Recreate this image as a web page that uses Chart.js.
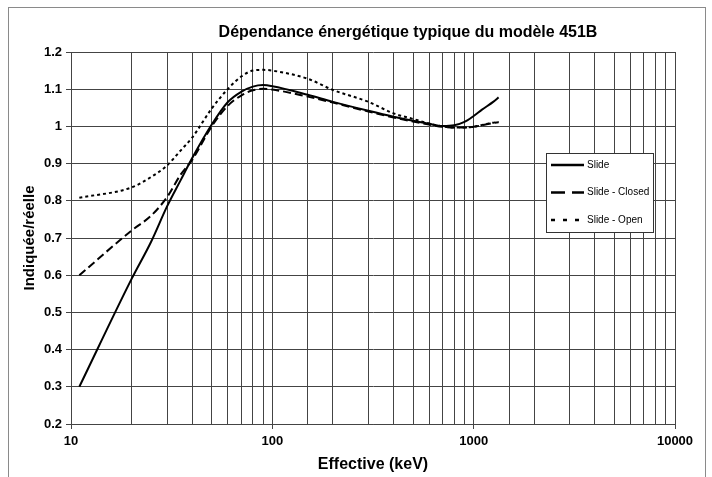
<!DOCTYPE html>
<html><head><meta charset="utf-8">
<script src="https://cdn.jsdelivr.net/npm/chart.js@4/dist/chart.umd.min.js"></script>
<style>html,body{margin:0;padding:0;background:#fff}canvas{display:block}</style>
</head><body>
<canvas id="c" width="712" height="477"></canvas>
<script>
// ---- data ----
const energyKeV   = [11, 20, 25, 30, 35, 40, 50, 60, 70, 80, 90, 100, 150, 200, 300, 400, 500, 600, 700, 800, 900, 1000, 1100, 1250, 1330];
const slide       = [0.30, 0.59, 0.69, 0.785, 0.855, 0.915, 1.005, 1.065, 1.093, 1.107, 1.111, 1.108, 1.085, 1.066, 1.042, 1.026, 1.015, 1.007, 1.001, 1.003, 1.012, 1.028, 1.045, 1.066, 1.078];
const slideClosed = [0.60, 0.72, 0.76, 0.81, 0.87, 0.91, 1.00, 1.055, 1.083, 1.097, 1.101, 1.099, 1.080, 1.064, 1.040, 1.024, 1.013, 1.005, 0.999, 0.997, 0.997, 0.999, 1.003, 1.009, 1.011];
const slideOpen   = [0.808, 0.836, 0.864, 0.895, 0.935, 0.97, 1.048, 1.10, 1.134, 1.150, 1.152, 1.150, 1.128, 1.098, 1.066, 1.035, 1.020, 1.008, 1.000, 0.997, 0.997, 0.999, 1.004, 1.010, 1.012];
const seriesNames = ['Slide', 'Slide - Closed', 'Slide - Open'];
const xMajorTicks = [10, 100, 1000, 10000];
const yMin = 0.2, yMax = 1.2, yStep = 0.1;
const chartTitle = 'Dépendance énergétique typique du modèle 451B';
const xTitle = 'Effective (keV)';
const yTitle = 'Indiquée/réelle';

const toPoints = arr => energyKeV.map((e, i) => ({x: e, y: arr[i]}));
const isMajor = v => xMajorTicks.some(m => Math.abs(v - m) < 1e-6 * m);
const GRID = '#444';
const FONT = '"Liberation Sans", Arial, Helvetica, sans-serif';

const chartDashes = [[], [8, 4], [3, 3]];
const legendDashes = [[], [14, 7], [4, 8]];

const decor = {
  id: 'decor',
  beforeDraw(chart) {
    const ctx = chart.ctx;
    ctx.save();
    ctx.fillStyle = '#fff';
    ctx.fillRect(0, 0, chart.width, chart.height);
    ctx.restore();
  },
  afterDraw(chart) {
    const ctx = chart.ctx;
    const ca = chart.chartArea;
    ctx.save();
    // outer frame
    ctx.strokeStyle = '#8a8a8a';
    ctx.lineWidth = 1;
    ctx.strokeRect(8.5, 7.5, 697, 520);
    // title
    ctx.fillStyle = '#000';
    ctx.textAlign = 'center';
    ctx.textBaseline = 'middle';
    ctx.font = 'bold 16px ' + FONT;
    ctx.fillText(chartTitle, 408, 33);
    // x title
    ctx.font = 'bold 16px ' + FONT;
    ctx.fillText(xTitle, (ca.left + ca.right) / 2, 465);
    // y title
    ctx.font = 'bold 15px ' + FONT;
    ctx.save();
    ctx.translate(30, (ca.top + ca.bottom) / 2);
    ctx.rotate(-Math.PI / 2);
    ctx.fillText(yTitle, 0, 0);
    ctx.restore();
    // legend
    const lx = 546, ly = 153, lw = 107, lh = 79;
    ctx.fillStyle = '#fff';
    ctx.fillRect(lx, ly, lw, lh);
    ctx.strokeStyle = '#333';
    ctx.lineWidth = 1;
    ctx.strokeRect(lx + 0.5, ly + 0.5, lw, lh);
    const rows = [165, 192.5, 220];
    ctx.font = '10px ' + FONT;
    ctx.textAlign = 'left';
    chart.data.datasets.forEach((ds, i) => {
      const y = rows[i];
      ctx.beginPath();
      ctx.setLineDash(legendDashes[i]);
      ctx.strokeStyle = '#000';
      ctx.lineWidth = 2.5;
      ctx.moveTo(551, y);
      ctx.lineTo(584, y);
      ctx.stroke();
      ctx.setLineDash([]);
      ctx.fillStyle = '#000';
      ctx.fillText(ds.label, 587, y);
    });
    ctx.restore();
  }
};

new Chart(document.getElementById('c'), {
  type: 'line',
  data: {
    datasets: [slide, slideClosed, slideOpen].map((arr, i) => ({
      label: seriesNames[i],
      data: toPoints(arr),
      borderColor: '#000',
      borderWidth: 2,
      borderDash: chartDashes[i],
      pointRadius: 0,
      fill: false,
      cubicInterpolationMode: 'monotone'
    }))
  },
  options: {
    responsive: false,
    devicePixelRatio: 1,
    animation: false,
    layout: {padding: {top: 52, right: 37, left: 0, bottom: 0}},
    plugins: {legend: {display: false}, title: {display: false}, tooltip: {enabled: false}},
    scales: {
      x: {
        type: 'logarithmic',
        min: 10, max: 10000,
        afterFit(s) { s.height = 53; },
        grid: {
          color: GRID, lineWidth: 1, tickLength: 5,
          tickColor: c => (c.tick && isMajor(c.tick.value)) ? GRID : 'rgba(0,0,0,0)'
        },
        border: {color: GRID},
        ticks: {
          autoSkip: false, maxRotation: 0, padding: 5,
          color: '#000', font: {family: FONT, size: 13, weight: 'bold'},
          callback: v => isMajor(v) ? String(Math.round(v)) : ''
        }
      },
      y: {
        type: 'linear',
        min: yMin, max: yMax,
        afterFit(s) { s.width = 71; },
        grid: {color: GRID, lineWidth: 1, tickLength: 5, tickColor: GRID},
        border: {color: GRID},
        ticks: {
          stepSize: yStep, padding: 4,
          color: '#000', font: {family: FONT, size: 13, weight: 'bold'},
          callback: v => String(Number(v.toFixed(1)))
        }
      }
    }
  },
  plugins: [decor]
});
</script>
</body></html>
